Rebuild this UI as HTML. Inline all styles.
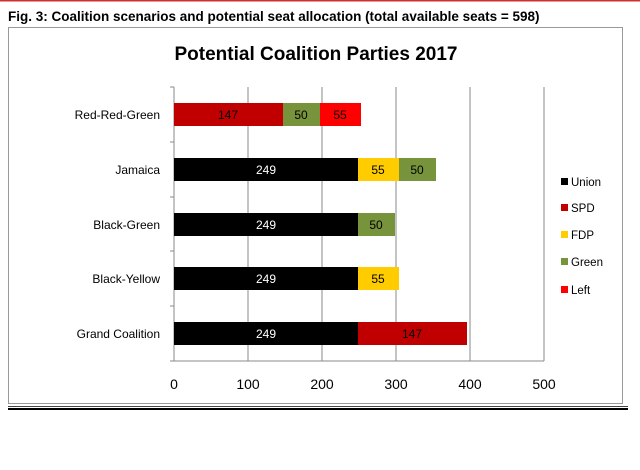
<!DOCTYPE html>
<html><head><style>
body{margin:0;background:#fff;width:640px;height:465px;overflow:hidden;font-family:"Liberation Sans",sans-serif;}
</style></head><body>
<svg width="640" height="465" xmlns="http://www.w3.org/2000/svg" font-family="Liberation Sans, sans-serif">
<rect x="0" y="0" width="640" height="1.5" fill="#d03030"/>
<text x="8" y="21" font-size="13.5" font-weight="bold" fill="#000">Fig. 3: Coalition scenarios and potential seat allocation (total available seats = 598)</text>
<rect x="8.5" y="27.5" width="614" height="376" fill="#fff" stroke="#999" stroke-width="1"/>
<text x="316" y="60" font-size="19" font-weight="bold" text-anchor="middle" fill="#000">Potential Coalition Parties 2017</text>
<g stroke="#888" stroke-width="1">
<line x1="174" y1="87" x2="174" y2="361"/>
<line x1="248" y1="87" x2="248" y2="361"/>
<line x1="322" y1="87" x2="322" y2="361"/>
<line x1="396" y1="87" x2="396" y2="361"/>
<line x1="470" y1="87" x2="470" y2="361"/>
<line x1="544" y1="87" x2="544" y2="361"/>
<line x1="174" y1="361" x2="544" y2="361"/>
<line x1="170" y1="87" x2="174" y2="87"/><line x1="170" y1="142" x2="174" y2="142"/><line x1="170" y1="197" x2="174" y2="197"/><line x1="170" y1="251" x2="174" y2="251"/><line x1="170" y1="306" x2="174" y2="306"/><line x1="170" y1="361" x2="174" y2="361"/>
</g>
<g font-size="12" fill="#000" text-anchor="end">
<text x="160" y="119">Red-Red-Green</text>
<text x="160" y="174">Jamaica</text>
<text x="160" y="229">Black-Green</text>
<text x="160" y="283">Black-Yellow</text>
<text x="160" y="338">Grand Coalition</text>
</g>
<g font-size="12" text-anchor="middle">
<rect x="174" y="103" width="109" height="23" fill="#c00000"/><text x="228" y="119">147</text>
<rect x="283" y="103" width="37" height="23" fill="#77933c"/><text x="301" y="119">50</text>
<rect x="320" y="103" width="41" height="23" fill="#ff0000"/><text x="340" y="119">55</text>

<rect x="174" y="158" width="184" height="23" fill="#000"/><text x="266" y="174" fill="#fff">249</text>
<rect x="358" y="158" width="41" height="23" fill="#ffcc00"/><text x="378" y="174">55</text>
<rect x="399" y="158" width="37" height="23" fill="#77933c"/><text x="417" y="174">50</text>

<rect x="174" y="213" width="184" height="23" fill="#000"/><text x="266" y="229" fill="#fff">249</text>
<rect x="358" y="213" width="37" height="23" fill="#77933c"/><text x="376" y="229">50</text>

<rect x="174" y="267" width="184" height="23" fill="#000"/><text x="266" y="283" fill="#fff">249</text>
<rect x="358" y="267" width="41" height="23" fill="#ffcc00"/><text x="378" y="283">55</text>

<rect x="174" y="322" width="184" height="23" fill="#000"/><text x="266" y="338" fill="#fff">249</text>
<rect x="358" y="322" width="109" height="23" fill="#c00000"/><text x="412" y="338">147</text>
</g>
<g font-size="14" text-anchor="middle" fill="#000">
<text x="174" y="389">0</text><text x="248" y="389">100</text><text x="322" y="389">200</text><text x="396" y="389">300</text><text x="470" y="389">400</text><text x="544" y="389">500</text>
</g>
<g font-size="11.5" fill="#000">
<rect x="561" y="178" width="7" height="7" fill="#000"/><text x="571" y="186">Union</text>
<rect x="561" y="204" width="7" height="7" fill="#c00000"/><text x="571" y="212">SPD</text>
<rect x="561" y="231" width="7" height="7" fill="#ffcc00"/><text x="571" y="239">FDP</text>
<rect x="561" y="258" width="7" height="7" fill="#77933c"/><text x="571" y="266">Green</text>
<rect x="561" y="286" width="7" height="7" fill="#ff0000"/><text x="571" y="294">Left</text>
</g>
<rect x="8" y="406" width="620" height="1" fill="#444"/>
<rect x="8" y="408" width="620" height="2" fill="#000"/>
</svg>
</body></html>
